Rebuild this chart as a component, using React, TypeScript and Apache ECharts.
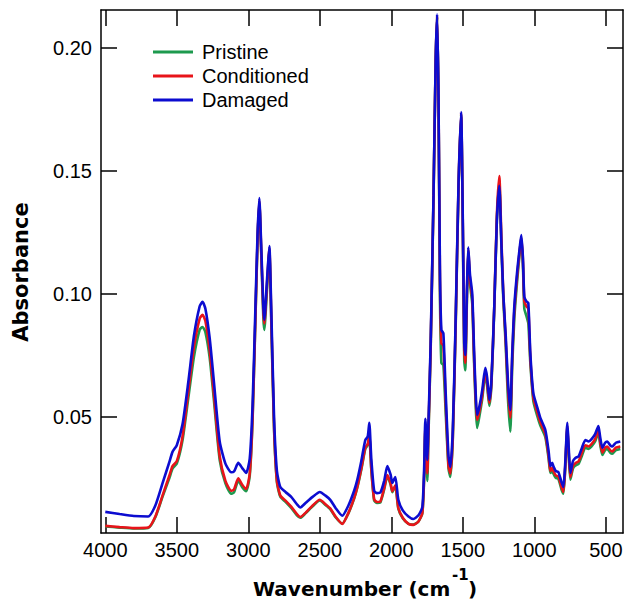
import React, { useEffect, useRef } from "react";
import * as echarts from "echarts";

const wavenumber = [
  4000, 3900, 3800, 3700, 3650, 3600, 3550, 3530, 3500, 3460, 3420, 3380, 3340, 3320, 3300, 3270, 3240, 3200,
  3160, 3120, 3100, 3070, 3040, 3015, 2990, 2970, 2950, 2935, 2923, 2910, 2895, 2888, 2870, 2853, 2840, 2820,
  2800, 2776, 2740, 2700, 2660, 2636, 2600, 2550, 2500, 2460, 2427, 2390, 2343, 2300, 2260, 2238, 2210, 2182,
  2165, 2154, 2140, 2120, 2100, 2077, 2050, 2028, 2005, 1993, 1972, 1951, 1920, 1880, 1846, 1810, 1783, 1770,
  1762, 1748, 1741, 1725, 1705, 1690, 1680, 1670, 1660, 1650, 1636, 1620, 1600, 1587, 1570, 1550, 1530, 1512,
  1500, 1490, 1483, 1470, 1462, 1450, 1434, 1420, 1400, 1385, 1364, 1343, 1330, 1315, 1300, 1280, 1262, 1245,
  1230, 1217, 1200, 1185, 1168, 1155, 1140, 1119, 1100, 1091, 1080, 1070, 1055, 1042, 1028, 1007, 980, 958,
  923, 900, 888, 875, 867, 850, 832, 810, 797, 785, 769, 760, 748, 730, 713, 690, 670, 643, 620, 600, 575, 552,
  540, 524, 505, 490, 470, 455, 430, 399,
];

const damaged = [
  0.0114, 0.0105, 0.0097, 0.0095, 0.014, 0.023, 0.032, 0.0358, 0.0385, 0.047, 0.064, 0.083, 0.095, 0.0968, 0.094, 0.082, 0.064, 0.04,
  0.031, 0.0275, 0.0278, 0.0313, 0.029, 0.0272, 0.033, 0.055, 0.095, 0.125, 0.139, 0.12, 0.095, 0.0894, 0.105, 0.1195, 0.095, 0.05,
  0.028, 0.0215, 0.0195, 0.0175, 0.0145, 0.0132, 0.015, 0.0175, 0.0195, 0.018, 0.0163, 0.013, 0.0098, 0.014, 0.02, 0.0244, 0.032, 0.0406,
  0.042, 0.0476, 0.033, 0.02, 0.019, 0.0192, 0.024, 0.03, 0.0265, 0.0232, 0.0256, 0.0163, 0.012, 0.0095, 0.0085, 0.01, 0.0134, 0.03,
  0.0492, 0.0325, 0.046, 0.08, 0.14, 0.195, 0.2138, 0.18, 0.11, 0.0854, 0.084, 0.06, 0.034, 0.0297, 0.045, 0.09, 0.145, 0.174,
  0.13, 0.08, 0.0752, 0.105, 0.119, 0.108, 0.1, 0.075, 0.0508, 0.054, 0.061, 0.07, 0.066, 0.057, 0.065, 0.095, 0.13, 0.144,
  0.12, 0.1, 0.083, 0.065, 0.0528, 0.075, 0.095, 0.1098, 0.12, 0.124, 0.115, 0.0988, 0.097, 0.0963, 0.076, 0.0597, 0.054, 0.0496,
  0.0447, 0.036, 0.03, 0.0313, 0.03, 0.028, 0.0276, 0.0235, 0.0215, 0.03, 0.0476, 0.038, 0.0272, 0.032, 0.0333, 0.034, 0.037, 0.0406, 0.04, 0.041, 0.043, 0.0463,
  0.042, 0.0374, 0.0395, 0.04, 0.0385, 0.038, 0.0395, 0.04,
];

const conditioned = [
  0.0057, 0.0052, 0.0048, 0.005, 0.0095, 0.018, 0.0265, 0.03, 0.032, 0.042, 0.06, 0.0785, 0.09, 0.0915, 0.089, 0.077, 0.059, 0.034,
  0.024, 0.02, 0.0205, 0.025, 0.0222, 0.0207, 0.027, 0.05, 0.091, 0.123, 0.138, 0.118, 0.093, 0.088, 0.103, 0.1185, 0.092, 0.046,
  0.024, 0.018, 0.016, 0.0135, 0.0105, 0.0093, 0.011, 0.014, 0.0163, 0.0145, 0.0128, 0.0095, 0.0065, 0.011, 0.017, 0.0215, 0.029, 0.0375,
  0.039, 0.0427, 0.029, 0.0165, 0.0154, 0.0156, 0.021, 0.0264, 0.023, 0.0198, 0.0222, 0.013, 0.009, 0.0065, 0.0061, 0.0075, 0.011, 0.027,
  0.046, 0.027, 0.043, 0.078, 0.139, 0.1945, 0.213, 0.179, 0.106, 0.08, 0.079, 0.056, 0.03, 0.027, 0.042, 0.088, 0.144, 0.1735,
  0.128, 0.077, 0.072, 0.103, 0.118, 0.106, 0.098, 0.072, 0.0488, 0.052, 0.059, 0.0685, 0.064, 0.0557, 0.064, 0.095, 0.132, 0.148,
  0.122, 0.1, 0.081, 0.062, 0.0496, 0.073, 0.093, 0.108, 0.119, 0.123, 0.114, 0.097, 0.095, 0.094, 0.074, 0.058, 0.052, 0.0478,
  0.043, 0.034, 0.028, 0.0293, 0.028, 0.0262, 0.0258, 0.0215, 0.0195, 0.0285, 0.0465, 0.036, 0.0255, 0.03, 0.0312, 0.032, 0.035, 0.0385, 0.038, 0.039, 0.041, 0.0445,
  0.04, 0.0355, 0.0375, 0.038, 0.0365, 0.036, 0.0375, 0.038,
];

const pristine = [
  0.0055, 0.005, 0.0046, 0.0048, 0.0092, 0.0175, 0.0255, 0.029, 0.031, 0.0405, 0.0575, 0.0745, 0.0855, 0.0866, 0.0845, 0.074, 0.0565, 0.0325,
  0.023, 0.0188, 0.0193, 0.024, 0.0212, 0.0198, 0.026, 0.049, 0.09, 0.122, 0.1375, 0.117, 0.0905, 0.0854, 0.101, 0.1175, 0.09, 0.045,
  0.0235, 0.0175, 0.0155, 0.013, 0.01, 0.009, 0.0108, 0.0137, 0.016, 0.0142, 0.0125, 0.0092, 0.0066, 0.0108, 0.0168, 0.0212, 0.0285, 0.037,
  0.0385, 0.042, 0.0285, 0.016, 0.015, 0.0152, 0.0205, 0.0258, 0.0225, 0.0194, 0.0218, 0.0127, 0.0088, 0.0065, 0.0062, 0.0075, 0.0108, 0.026,
  0.045, 0.024, 0.041, 0.077, 0.1385, 0.194, 0.2125, 0.178, 0.1, 0.072, 0.071, 0.052, 0.029, 0.0256, 0.041, 0.087, 0.143, 0.173,
  0.126, 0.073, 0.069, 0.101, 0.117, 0.104, 0.096, 0.07, 0.0455, 0.05, 0.0575, 0.0675, 0.0625, 0.0545, 0.063, 0.094, 0.13, 0.145,
  0.119, 0.098, 0.079, 0.058, 0.044, 0.07, 0.09, 0.106, 0.118, 0.122, 0.112, 0.094, 0.091, 0.088, 0.072, 0.0565, 0.0505, 0.0465,
  0.0418, 0.033, 0.0272, 0.0285, 0.027, 0.0252, 0.0248, 0.0205, 0.0188, 0.0278, 0.0455, 0.035, 0.0245, 0.029, 0.0302, 0.031, 0.0338, 0.0375, 0.037, 0.038, 0.04, 0.0435,
  0.039, 0.0345, 0.0365, 0.037, 0.0355, 0.035, 0.0365, 0.037,
];

const seriesNames = ["Pristine", "Conditioned", "Damaged"];
const seriesColors = ["#1d9a4e", "#e8141a", "#0c0cd0"];
const xTicks = [4000, 3500, 3000, 2500, 2000, 1500, 1000, 500];
const yTicks = [0.05, 0.1, 0.15, 0.2];

const FONT = "'Liberation Sans', Arial, Helvetica, sans-serif";

export default function App() {
  const ref = useRef<HTMLDivElement>(null);
  useEffect(() => {
    if (!ref.current) return;
    const chart = echarts.init(ref.current, null, { renderer: "svg" });
    const values = [pristine, conditioned, damaged];
    const axisLine = { show: true, lineStyle: { color: "#000", width: 1.5 } };
    const tick = { show: true, inside: true, length: 16, lineStyle: { color: "#000", width: 1.5 } };
    const xBase = { type: "value", min: 380, max: 4030, inverse: true, splitLine: { show: false } };
    const yBase = { type: "value", min: 0.0028, max: 0.2155, splitLine: { show: false } };
    chart.setOption({
      animation: false,
      backgroundColor: "#fff",
      grid: { left: 101, right: 2, top: 10, bottom: 72, containLabel: false, outerBoundsMode: "none" },
      legend: {
        data: seriesNames,
        orient: "vertical",
        left: 153,
        top: 42,
        padding: 0,
        icon: "rect",
        itemWidth: 40,
        itemHeight: 3,
        itemGap: 4,
        textStyle: { fontFamily: FONT, fontSize: 20, color: "#000", lineHeight: 20, padding: [0, 0, 0, 4] },
      },
      xAxis: [
        {
          ...xBase,
          position: "bottom",
          axisLine,
          axisTick: { ...tick, customValues: xTicks },
          axisLabel: {
            show: true,
            customValues: xTicks,
            margin: 7,
            fontFamily: FONT,
            fontSize: 20,
            color: "#000",
            formatter: (v: number) => String(v),
          },
        },
        {
          ...xBase,
          position: "top",
          axisLine,
          axisTick: { ...tick, customValues: xTicks },
          axisLabel: { show: false },
        },
      ],
      yAxis: [
        {
          ...yBase,
          position: "left",
          axisLine,
          axisTick: { ...tick, customValues: yTicks },
          axisLabel: {
            show: true,
            customValues: yTicks,
            margin: 9,
            fontFamily: FONT,
            fontSize: 20,
            color: "#000",
            formatter: (v: number) => v.toFixed(2),
          },
        },
        {
          ...yBase,
          position: "right",
          axisLine,
          axisTick: { ...tick, customValues: yTicks },
          axisLabel: { show: false },
        },
      ],
      graphic: [
        {
          type: "text",
          left: 253,
          top: 579,
          style: { text: "Wavenumber (cm", font: "bold 20px 'DejaVu Sans', sans-serif", fill: "#000" },
        },
        {
          type: "text",
          left: 452,
          top: 567,
          style: { text: "-1", font: "bold 15px 'DejaVu Sans', sans-serif", fill: "#000" },
        },
        {
          type: "text",
          left: 468,
          top: 579,
          style: { text: ")", font: "bold 20px 'DejaVu Sans', sans-serif", fill: "#000" },
        },
        {
          type: "text",
          x: 21,
          y: 272,
          rotation: Math.PI / 2,
          style: {
            text: "Absorbance",
            font: "bold 21px 'DejaVu Sans', sans-serif",
            fill: "#000",
            align: "center",
            verticalAlign: "middle",
          },
        },
      ],
      series: seriesNames.map((name, s) => ({
        name,
        type: "line",
        xAxisIndex: 0,
        yAxisIndex: 0,
        showSymbol: false,
        symbol: "none",
        smooth: 0.2,
        lineStyle: { color: seriesColors[s], width: 2.6 },
        itemStyle: { color: seriesColors[s] },
        data: wavenumber.map((w, i) => [w, values[s][i]]),
      })),
    });
    return () => chart.dispose();
  }, []);
  return <div ref={ref} style={{ position: "fixed", left: 0, top: 0, width: 625, height: 605 }} />;
}
